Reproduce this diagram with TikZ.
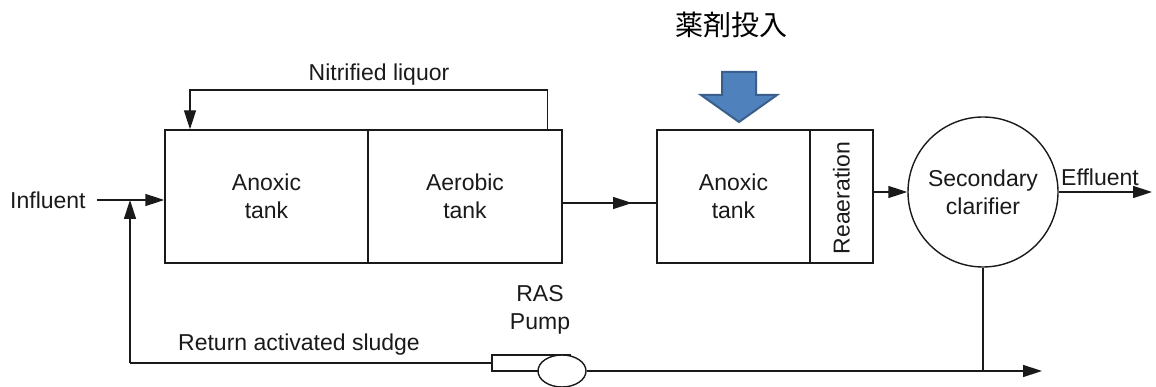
\documentclass[tikz,border=0pt]{standalone}
\usepackage{fontspec}
\setmainfont{Liberation Sans}
\newfontfamily\cjk{Noto Sans CJK JP}
\usetikzlibrary{arrows.meta,shapes.geometric}
\definecolor{ink}{HTML}{1A1A1A}
\definecolor{bluefill}{HTML}{4F81BD}
\definecolor{blueedge}{HTML}{3A5F8C}
\tikzset{
  tank/.style={draw=ink, line width=1.4pt, rectangle, inner sep=0pt, align=center,
    font=\fontsize{23}{28}\selectfont, text=ink},
  lbl/.style={font=\fontsize{23}{28}\selectfont, text=ink, inner sep=0pt},
  pipe/.style={draw=ink, line width=1.4pt},
  arr/.style={pipe, -{Triangle[length=19pt,width=12pt]}}
}
\begin{document}
\begin{tikzpicture}[x=1pt,y=-1pt]
\useasboundingbox (0,0) rectangle (1156,387);
% tanks
\node[tank, minimum width=203pt, minimum height=133pt] (anox1) at (266.5,196.5) {Anoxic\\tank};
\node[tank, minimum width=194pt, minimum height=133pt] (aer) at (465,196.5) {Aerobic\\tank};
\node[tank, minimum width=153pt, minimum height=133pt] (anox2) at (733.5,196.5) {Anoxic\\tank};
\node[tank, minimum width=63pt, minimum height=133pt] (reaer) at (841.5,196.5) {};
\node[lbl, rotate=90] (reaertxt) at (841.5,198) {Reaeration};
\node[tank, circle, minimum size=150pt] (clar) at (983,192) {Secondary\\clarifier};
% pump
\node[tank, minimum width=78pt, minimum height=16pt] (pumpbox) at (531,363) {};
\node[tank, ellipse, fill=white, minimum width=48pt, minimum height=32pt] (pumpell) at (562,371) {};
\node[lbl, align=center] (raslbl) at (540,310) {RAS\\Pump};
% labels
\node[lbl, anchor=west] (infl) at (10,200) {Influent};
\node[lbl] (nitr) at (379,75) {Nitrified liquor};
\node[lbl] (ret) at (299,345) {Return activated sludge};
\node[lbl] (effl) at (1100,177) {Effluent};
\node[font=\cjk\fontsize{28}{32}\selectfont, inner sep=0pt] (chem) at (731,25) {薬剤投入};
% coordinates
\coordinate (inS) at (97,200);
\coordinate (j) at (130,200);
\coordinate (b1) at (130,363);
\coordinate (nl) at (190,90);
\coordinate (mid) at (632,203);
\coordinate (outB) at (1042,371);
\coordinate (effE) at (1152,192);
% connectors
\draw[arr] (inS) -- (inS -| anox1.west);
\draw[arr] (b1) -- (j);
\draw[pipe] (b1) -- (pumpbox.west);
\draw[arr] ([xshift=-15pt]aer.north east) |- (nl) -- (nl |- anox1.north);
\draw[pipe] (mid -| aer.east) -- (mid -| anox2.west);
\draw[arr] (mid -| aer.east) -- (mid);
\draw[arr] (reaer.east |- clar.west) -- (clar.west);
\draw[arr] (clar.east) -- (effE);
\draw[pipe] (clar.south) -- (clar.south |- outB);
\draw[arr] (pumpell.east) -- (outB);
% blue arrow
\draw[fill=bluefill, draw=blueedge, line width=2pt, line join=miter]
  (722,72) -- (756,72) -- (756,95) -- (777,95) -- (739,122) -- (701,95) -- (722,95) -- cycle;
\end{tikzpicture}
\end{document}
